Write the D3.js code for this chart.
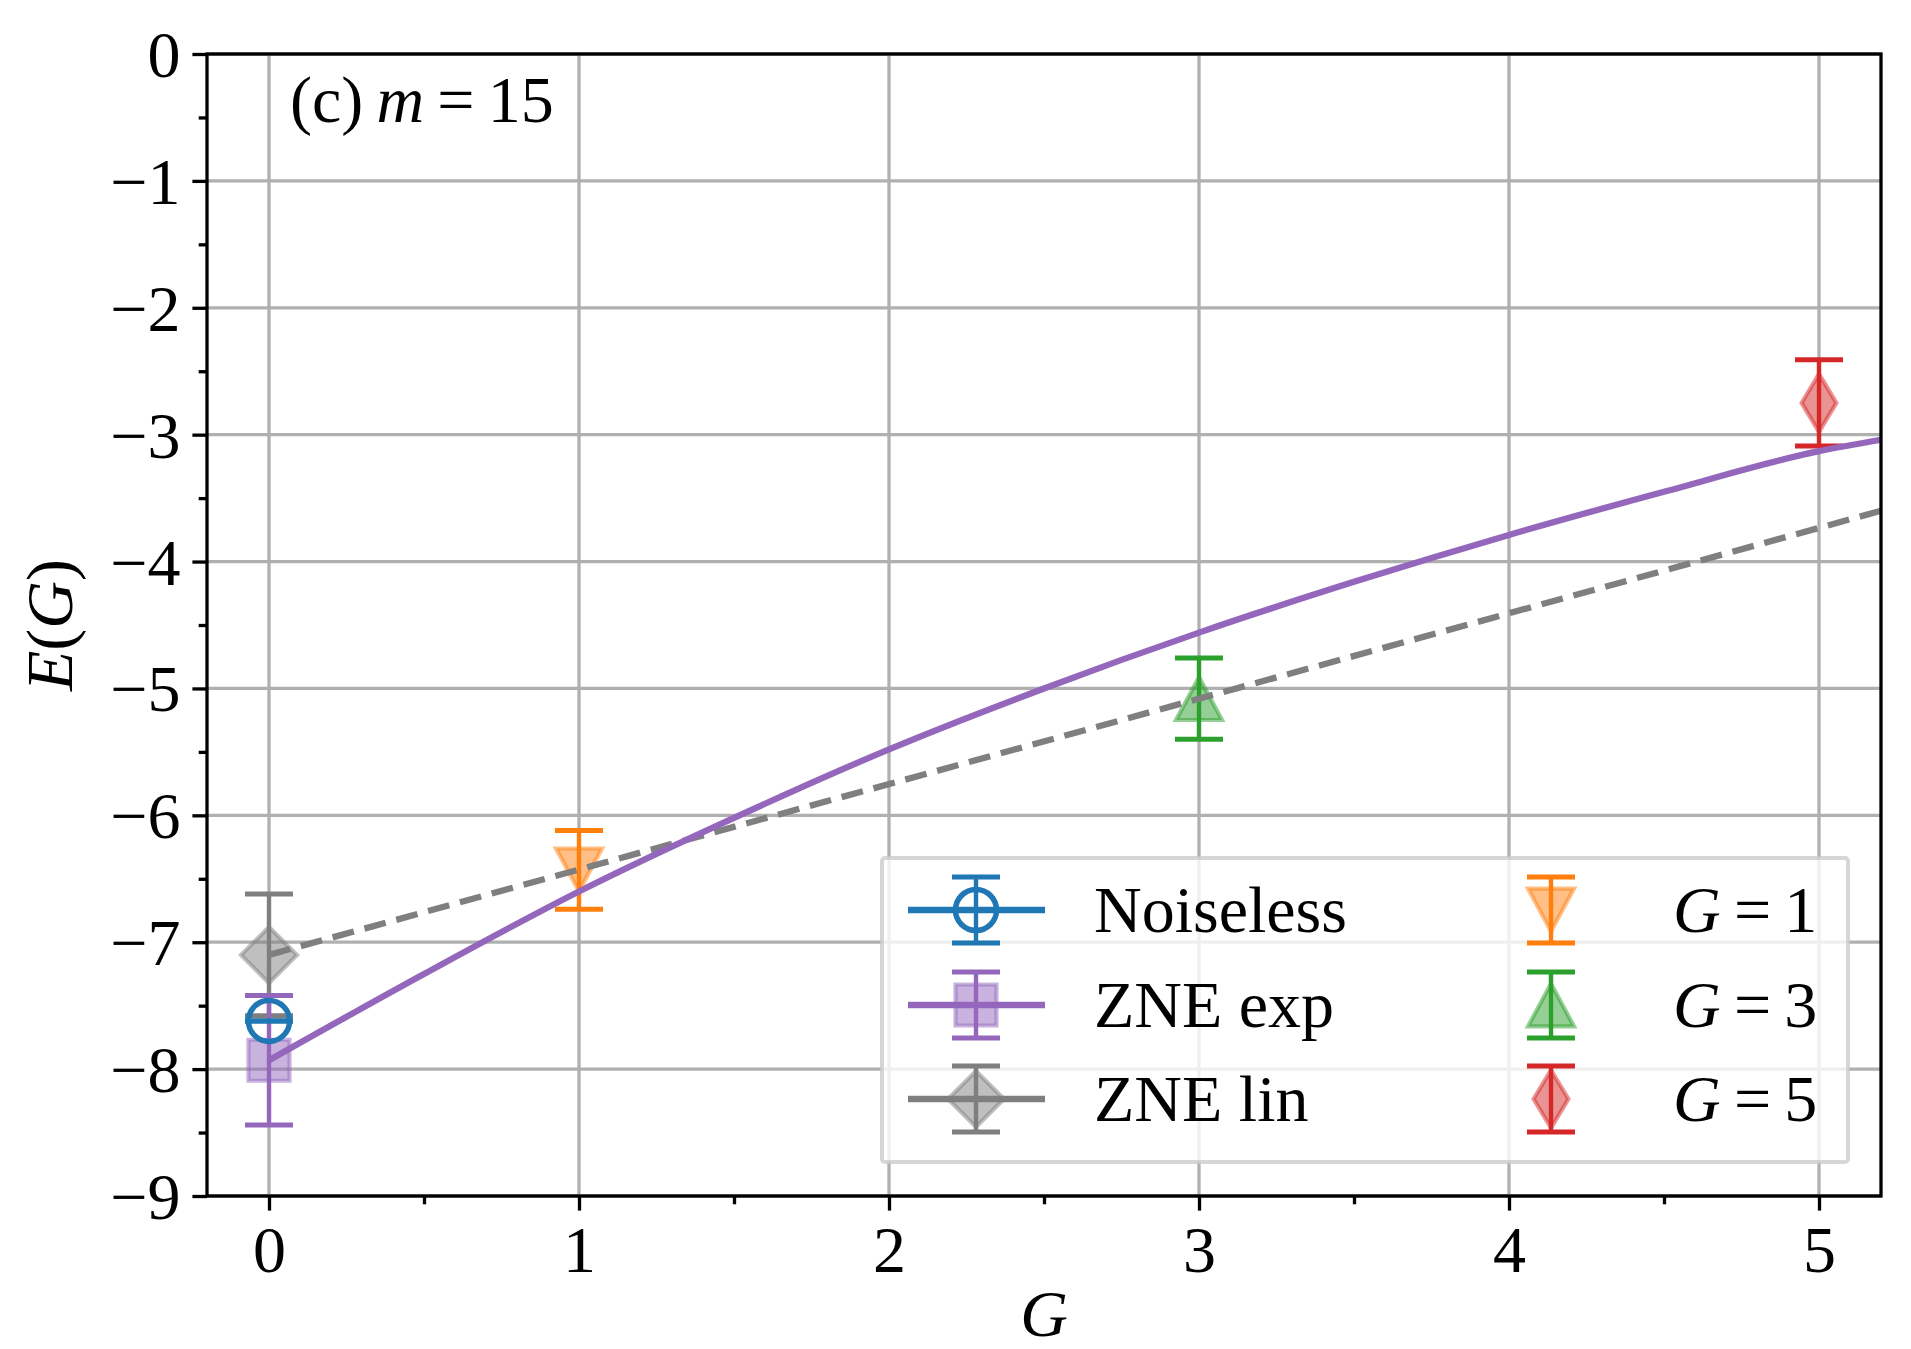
<!DOCTYPE html>
<html>
<head>
<meta charset="utf-8">
<script src="https://cdn.jsdelivr.net/npm/d3@7"></script>
<style>
  body { margin: 0; background: #fff; }
  svg text { font-family: "Liberation Serif", "Times New Roman", serif; }
</style>
</head>
<body>
<div id="chart"></div>
<script>
// data
var noiselessG = [0], noiselessE = [-7.62], noiselessErr = [0];
var zneExpG = [0], zneExpE = [-7.93], zneExpErr = [0.51];
var zneLinG = [0], zneLinE = [-7.10], zneLinErr = [0.48];
var noisyG = [1, 3, 5];
var noisyE = [-6.43, -5.08, -2.75];
var noisyErr = [0.31, 0.32, 0.34];

// fitted curves as drawn
var expFitG = [0, 0.5, 1, 1.5, 2, 2.5, 3, 3.5, 4, 4.5, 5, 5.2];
var expFitE = [-7.93, -7.25, -6.60, -6.02, -5.48, -5.00, -4.56, -4.16, -3.79, -3.45, -3.13, -3.04];
var linFitG = [0, 5.2];
var linFitE = [-7.10, -3.60];

var xTicks = [0, 1, 2, 3, 4, 5];
var yTicks = [0, -1, -2, -3, -4, -5, -6, -7, -8, -9];

var W = 1911, H = 1349;
var margin = {top: 54, right: 30, bottom: 153, left: 207},
    width = W - margin.left - margin.right,
    height = H - margin.top - margin.bottom;

var fs = 66;
var colors = {blue: "#1f77b4", orange: "#ff7f0e", green: "#2ca02c", red: "#d62728", purple: "#9467bd", gray: "#7f7f7f"};

var svg = d3.select("#chart").append("svg")
    .attr("width", W).attr("height", H);
var g = svg.append("g")
    .attr("transform", "translate(" + margin.left + "," + margin.top + ")");

var x = d3.scaleLinear().domain([-0.2, 5.2]).range([0, width]);
var y = d3.scaleLinear().domain([-9, 0]).range([height, 0]);

// grid
g.append("g").selectAll("line").data(xTicks).enter().append("line")
  .attr("x1", d => x(d)).attr("x2", d => x(d)).attr("y1", 0).attr("y2", height)
  .attr("stroke", "#b0b0b0").attr("stroke-width", 3.3);
g.append("g").selectAll("line").data(yTicks).enter().append("line")
  .attr("y1", d => y(d)).attr("y2", d => y(d)).attr("x1", 0).attr("x2", width)
  .attr("stroke", "#b0b0b0").attr("stroke-width", 3.3);

// axes
var xAxis = g.append("g").attr("transform", "translate(0," + height + ")")
  .call(d3.axisBottom(x).tickValues(xTicks).tickSize(14.6).tickPadding(14).tickFormat(d3.format("d")));
var xMinor = g.append("g").attr("transform", "translate(0," + height + ")")
  .call(d3.axisBottom(x).tickValues(d3.range(0.5, 5.2, 1)).tickSize(8.3).tickFormat(""));
var yAxis = g.append("g")
  .call(d3.axisLeft(y).tickValues(yTicks).tickSize(14.6).tickPadding(12)
        .tickFormat(d => d < 0 ? "\u2212" + Math.abs(d) : d));
var yMinor = g.append("g")
  .call(d3.axisLeft(y).tickValues(d3.range(-8.5, 0, 1)).tickSize(8.3).tickFormat(""));

[xAxis, xMinor, yAxis, yMinor].forEach(function(a) {
  a.select(".domain").remove();
  a.selectAll("line").attr("stroke", "#000").attr("stroke-width", 3.3);
  a.selectAll("text").attr("font-size", fs).attr("fill", "#000")
    .style("font-family", "'Liberation Serif', serif");
});
xAxis.selectAll("text").attr("dy", "0.72em");
yAxis.selectAll("text").attr("dy", "0.34em");

// fit curves
var line = d3.line().x(d => x(d[0])).y(d => y(d[1])).curve(d3.curveMonotoneX);

// marker shapes
function markerPath(kind, s) {
  var h = s / 2;
  if (kind === "v") return "M" + (-h) + "," + (-h * 0.93) + "L" + h + "," + (-h * 0.93) + "L0," + (h * 0.93) + "Z";
  if (kind === "^") return "M" + (-h) + "," + (h * 0.93) + "L" + h + "," + (h * 0.93) + "L0," + (-h * 0.93) + "Z";
  if (kind === "D") return "M0," + (-h) + "L" + h + ",0L0," + h + "L" + (-h) + ",0Z";
  if (kind === "d") return "M0," + (-h) + "L" + (h * 0.6) + ",0L0," + h + "L" + (-h * 0.6) + ",0Z";
  if (kind === "s") return "M" + (-h) + "," + (-h) + "H" + h + "V" + h + "H" + (-h) + "Z";
  if (kind === "o") return d3.arc()({innerRadius: 0, outerRadius: h, startAngle: 0, endAngle: 2 * Math.PI});
}

function drawMarker(sel, cx, cy, kind, size, color, open) {
  var p = sel.append("path").attr("d", markerPath(kind, size))
    .attr("transform", "translate(" + cx + "," + cy + ")");
  if (open) {
    p.attr("fill", "none").attr("stroke", color).attr("stroke-width", 5.5);
  } else {
    p.attr("fill", color).attr("fill-opacity", 0.5)
     .attr("stroke", color).attr("stroke-opacity", 0.5).attr("stroke-width", 4.2);
  }
}

function drawErr(sel, cx, top, bot, color) {
  var cap = 24;
  sel.append("line").attr("x1", cx).attr("x2", cx).attr("y1", top).attr("y2", bot)
    .attr("stroke", color).attr("stroke-width", 4.4);
  [top, bot].forEach(function(v) {
    sel.append("line").attr("x1", cx - cap).attr("x2", cx + cap).attr("y1", v).attr("y2", v)
      .attr("stroke", color).attr("stroke-width", 5);
  });
}

function series(G, E, Err, kind, size, color, open) {
  var s = g.append("g");
  G.forEach(function(gv, i) {
    drawErr(s, x(gv), y(E[i] + Err[i]), y(E[i] - Err[i]), color);
    drawMarker(s, x(gv), y(E[i]), kind, size, color, open);
  });
}

var noisyKinds = ["v", "^", "d"], noisyColors = [colors.orange, colors.green, colors.red];
noisyG.forEach(function(gv, i) {
  series([gv], [noisyE[i]], [noisyErr[i]], noisyKinds[i], noisyKinds[i] === "d" ? 58 : 46, noisyColors[i], false);
});

series(zneLinG, zneLinE, zneLinErr, "D", 56, colors.gray, false);
series(zneExpG, zneExpE, zneExpErr, "s", 41, colors.purple, false);

g.append("path").datum(d3.zip(linFitG, linFitE)).attr("d", line)
  .attr("fill", "none").attr("stroke", colors.gray).attr("stroke-width", 6.3)
  .attr("stroke-dasharray", "22,11");
g.append("path").datum(d3.zip(expFitG, expFitE)).attr("d", line)
  .attr("fill", "none").attr("stroke", colors.purple).attr("stroke-width", 6.3);

series(noiselessG, noiselessE, noiselessErr, "o", 41, colors.blue, true);

// frame
g.append("rect").attr("width", width).attr("height", height)
  .attr("fill", "none").attr("stroke", "#000").attr("stroke-width", 3.3);

// panel label
var lab = g.append("text").attr("x", 83).attr("y", 68).attr("font-size", fs);
lab.append("tspan").text("(c)\u2009");
lab.append("tspan").attr("font-style", "italic").text("m");
lab.append("tspan").text("\u2009=\u200915");

// axis titles
svg.append("text").attr("x", margin.left + x(2.5)).attr("y", 1336)
  .attr("text-anchor", "middle").attr("font-size", fs).attr("font-style", "italic").text("G");
var yl = svg.append("text").attr("transform", "translate(72," + (margin.top + height / 2) + ") rotate(-90)")
  .attr("text-anchor", "middle").attr("font-size", fs);
yl.append("tspan").attr("font-style", "italic").text("E");
yl.append("tspan").text("(");
yl.append("tspan").attr("font-style", "italic").text("G");
yl.append("tspan").text(")");

// legend
var leg = svg.append("g");
leg.append("rect").attr("x", 882).attr("y", 858).attr("width", 966).attr("height", 304)
  .attr("rx", 3).attr("fill", "#fff").attr("fill-opacity", 0.8)
  .attr("stroke", "#cccccc").attr("stroke-opacity", 0.8).attr("stroke-width", 4);

var rowsY = [910, 1005, 1099];
var col1 = [
  {label: "Noiseless", kind: "o", size: 41, color: colors.blue, open: true},
  {label: "ZNE exp", kind: "s", size: 41, color: colors.purple, open: false},
  {label: "ZNE lin", kind: "D", size: 56, color: colors.gray, open: false}
];
col1.forEach(function(d, i) {
  var cy = rowsY[i], cx = 976;
  leg.append("line").attr("x1", 908).attr("x2", 1045).attr("y1", cy).attr("y2", cy)
    .attr("stroke", d.color).attr("stroke-width", 6.3);
  drawErr(leg, cx, cy - 33, cy + 33, d.color);
  drawMarker(leg, cx, cy, d.kind, d.size, d.color, d.open);
  leg.append("text").attr("x", 1094).attr("y", cy + 22).attr("font-size", fs).text(d.label);
});
noisyG.forEach(function(gv, i) {
  var cy = rowsY[i], cx = 1551;
  drawErr(leg, cx, cy - 33, cy + 33, noisyColors[i]);
  drawMarker(leg, cx, cy, noisyKinds[i], noisyKinds[i] === "d" ? 58 : 46, noisyColors[i], false);
  var t = leg.append("text").attr("x", 1673).attr("y", cy + 22).attr("font-size", fs);
  t.append("tspan").attr("font-style", "italic").text("G");
  t.append("tspan").text("\u2009=\u2009" + gv);
});
</script>
</body>
</html>
